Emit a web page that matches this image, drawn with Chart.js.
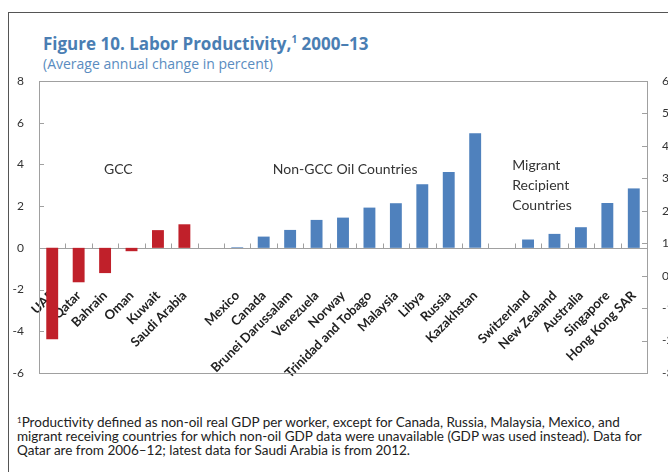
<!DOCTYPE html>
<html>
<head>
<meta charset="utf-8">
<script src="https://cdn.jsdelivr.net/npm/chart.js@4"></script>
<style>
  html, body { margin: 0; padding: 0; width: 668px; height: 472px; overflow: hidden; background: #fff; }
  #frame { position: absolute; left: 8px; top: 12px; width: 700px; height: 500px; border-top: 1px solid #555; border-left: 1px solid #555; }
  #title { position: absolute; left: 43px; top: 32px; font: bold 17px "Open Sans"; color: #4a7eb3; white-space: nowrap; }
  #title sup { font-size: 10px; vertical-align: 7px; }
  #subtitle { position: absolute; left: 43px; top: 54px; font: 14px "Open Sans"; color: #5a8cc0; white-space: nowrap; }
  #note { position: absolute; left: 17px; top: 413px; font: 13.5px Lato; line-height: 14px; color: #222; white-space: nowrap; }
  #note sup { font-size: 8px; vertical-align: 4px; }
  canvas { position: absolute; left: 0; top: 0; }
</style>
</head>
<body>
<div id="frame"></div>
<div id="title">Figure 10. Labor Productivity,<sup>1</sup> 2000–13</div>
<div id="subtitle">(Average annual change in percent)</div>
<div id="note"><sup>1</sup>Productivity defined as non-oil real GDP per worker, except for Canada, Russia, Malaysia, Mexico, and<br>migrant receiving countries for which non-oil GDP data were unavailable (GDP was used instead). Data for<br>Qatar are from 2006–12; latest data for Saudi Arabia is from 2012.</div>
<canvas id="chart" width="700" height="472"></canvas>
<script>
// countries, with empty slots as gaps between groups
const categories = ['UAE', 'Qatar', 'Bahrain', 'Oman', 'Kuwait', 'Saudi Arabia', '',
  'Mexico', 'Canada', 'Brunei Darussalam', 'Venezuela', 'Norway', 'Trinidad and Tobago',
  'Malaysia', 'Libya', 'Russia', 'Kazakhstan', '',
  'Switzerland', 'New Zealand', 'Australia', 'Singapore', 'Hong Kong SAR'];
const productivity = [-4.38, -1.65, -1.21, -0.16, 0.85, 1.13, null,
  0.03, 0.54, 0.86, 1.34, 1.45, 1.93, 2.14, 3.05, 3.64, 5.49, null,
  0.40, 0.67, 0.99, 2.15, 2.85];
const isGCC = categories.map((c, i) => i < 6);
const leftTicks = [8, 6, 4, 2, 0, -2, -4, -6];
const rightTicks = [6, 5, 4, 3, 2, 1, 0, -1, -2, -3];

const RED = '#c0202a';
const BLUE = '#4f81bd';
const AXIS = '#a0a0a0';

const groupLabels = [
  { lines: ['GCC'], at: 2.5, align: 'center', y: 3.78 },
  { lines: ['Non-GCC Oil Countries'], at: 11.08, align: 'center', y: 3.75 },
  { lines: ['Migrant', 'Recipient', 'Countries'], at: 17.4, align: 'left', y: 3.97 }
];

// plot box, zero line and inward tick marks
const decor = {
  id: 'decor',
  beforeDatasetsDraw(chart) {
    const { ctx, chartArea: a, scales: { x, y, y2 } } = chart;
    ctx.save();
    ctx.strokeStyle = AXIS;
    ctx.lineWidth = 1;
    ctx.strokeRect(a.left + 0.5, a.top + 0.5, a.right - a.left, a.bottom - a.top);
    const z = Math.round(y.getPixelForValue(0)) + 0.5;
    ctx.beginPath();
    ctx.moveTo(a.left, z); ctx.lineTo(a.right, z);
    y.ticks.forEach(t => {
      const p = Math.round(y.getPixelForValue(t.value)) + 0.5;
      ctx.moveTo(a.left, p); ctx.lineTo(a.left + 5, p);
    });
    y2.ticks.forEach(t => {
      const p = Math.round(y2.getPixelForValue(t.value)) + 0.5;
      ctx.moveTo(a.right - 5, p); ctx.lineTo(a.right, p);
    });
    for (let i = 1; i < categories.length; i++) {
      const p = Math.round((x.getPixelForValue(i - 1) + x.getPixelForValue(i)) / 2) + 0.5;
      ctx.moveTo(p, z); ctx.lineTo(p, z - 5);
    }
    ctx.stroke();
    ctx.restore();
  },
  afterDraw(chart) {
    const { ctx, scales: { x, y } } = chart;
    ctx.save();
    ctx.fillStyle = '#333';
    ctx.font = '14px Lato';
    ctx.textBaseline = 'middle';
    groupLabels.forEach(g => {
      const px = x.getPixelForValue(g.at);
      const py = y.getPixelForValue(g.y);
      ctx.textAlign = g.align;
      g.lines.forEach((l, k) => ctx.fillText(l, px, py + k * 20));
    });
    ctx.restore();
  }
};

new Chart(document.getElementById('chart'), {
  type: 'bar',
  data: {
    labels: categories,
    datasets: [{
      data: productivity,
      backgroundColor: productivity.map((v, i) => isGCC[i] ? RED : BLUE),
      barPercentage: 0.45,
      categoryPercentage: 1,
      yAxisID: 'y'
    }]
  },
  options: {
    responsive: false,
    animation: false,
    devicePixelRatio: 1,
    layout: { padding: { top: 81, bottom: 99, left: 0, right: 0 } },
    plugins: { legend: { display: false }, tooltip: { enabled: false } },
    scales: {
      x: {
        position: { y: 0 },
        z: 1,
        grid: { display: false },
        border: { display: false },
        afterFit: s => { s.paddingLeft = 0; s.paddingRight = 0; },
        ticks: {
          autoSkip: false, minRotation: 45, maxRotation: 45, padding: 32,
          color: '#222', font: { family: 'Lato', weight: 'bold', size: 13 }
        }
      },
      y: {
        position: 'left',
        min: -6, max: 8,
        afterBuildTicks: s => { s.ticks = leftTicks.map(v => ({ value: v })); },
        afterFit: s => { s.width = 39; },
        grid: { display: false },
        border: { display: false },
        ticks: { padding: 7, color: '#333', font: { family: 'Lato', size: 12 } }
      },
      y2: {
        position: 'right',
        min: -3, max: 6,
        afterBuildTicks: s => { s.ticks = rightTicks.map(v => ({ value: v })); },
        afterFit: s => { s.width = 53; },
        grid: { display: false },
        border: { display: false },
        ticks: { padding: 7, color: '#333', font: { family: 'Lato', size: 12 } }
      }
    }
  },
  plugins: [decor]
});
</script>
</body>
</html>
